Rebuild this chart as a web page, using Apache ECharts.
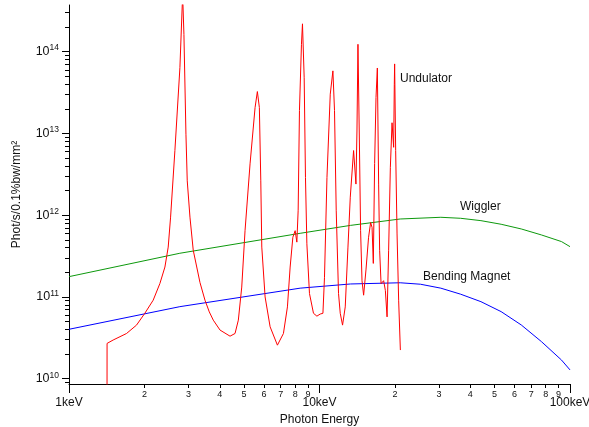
<!DOCTYPE html>
<html>
<head>
<meta charset="utf-8">
<script src="https://cdn.jsdelivr.net/npm/echarts@6/dist/echarts.min.js"></script>
<style>
  html, body { margin: 0; padding: 0; background: #fff; }
  #chart { width: 589px; height: 427px; }
</style>
</head>
<body>
<div id="chart"></div>
<script>
// photon energy in keV, flux in Phot/s/0.1%bw/mm^2
const undulatorEnergy = [1.418, 1.419, 1.500, 1.697, 1.860, 2.008, 2.168, 2.306, 2.415, 2.489, 2.544, 2.647, 2.772, 2.842, 2.876, 2.930, 2.965, 3.040, 3.133, 3.333, 3.490, 3.631, 3.767, 4.008, 4.394, 4.601, 4.742, 4.893, 5.044, 5.282, 5.531, 5.649, 5.754, 5.829, 5.883, 6.065, 6.351, 6.792, 7.178, 7.447, 7.635, 7.827, 7.995, 8.121, 8.219, 8.318, 8.472, 8.551, 8.686, 8.790, 8.904, 9.120, 9.462, 9.763, 10.06, 10.32, 10.47, 10.71, 11.04, 11.31, 11.48, 11.66, 11.91, 12.10, 12.36, 12.67, 12.99, 13.27, 13.68, 13.80, 13.98, 14.11, 14.24, 14.41, 14.59, 14.78, 15.00, 15.33, 15.70, 16.00, 16.21, 16.40, 16.60, 16.81, 17.02, 17.22, 17.38, 17.61, 17.82, 18.03, 18.32, 18.61, 18.88, 19.18, 19.48, 19.66, 19.77, 19.89, 19.95, 20.14, 20.40, 20.70, 21.03];
const undulatorFlux = [1e9, 2.70e10, 2.97e10, 3.57e10, 4.52e10, 6.31e10, 9.12e10, 1.46e11, 2.32e11, 4.07e11, 9.46e11, 6.17e12, 6.38e13, 5e14, 1.62e14, 9.77e12, 2.63e12, 9.46e11, 3.72e11, 1.50e11, 9.12e10, 6.56e10, 5.20e10, 3.93e10, 3.31e10, 3.57e10, 5.20e10, 1.32e11, 6.46e11, 4.24e12, 2.07e13, 3.25e13, 2.07e13, 2.63e12, 4.07e11, 1.00e11, 4.31e10, 2.57e10, 3.57e10, 7.55e10, 2.32e11, 5.37e11, 6.46e11, 4.68e11, 1.15e12, 1.91e13, 1.23e14, 2.19e14, 4.79e13, 2.88e12, 4.47e11, 1.10e11, 6.31e10, 5.82e10, 6.17e10, 6.31e10, 1.74e11, 2.88e12, 3.02e13, 5.82e13, 1.91e13, 1.15e12, 1.10e11, 6.31e10, 4.52e10, 7.55e10, 4.07e11, 1.66e12, 6.17e12, 6.46e12, 2.40e12, 1.07e13, 1.23e14, 1.07e13, 6.46e11, 1.58e11, 1.05e11, 2.14e11, 5.37e11, 8.13e11, 7.08e11, 2.57e11, 4.27e12, 2.75e13, 6.31e13, 2.40e12, 3.72e11, 1.45e11, 1.50e11, 1.58e11, 1.20e11, 5.70e10, 3.72e11, 3.85e12, 1.35e13, 1.29e13, 6.76e12, 3.98e13, 7.08e13, 6.17e12, 5.89e11, 9.12e10, 2.24e10];

const wigglerEnergy = [1, 2.77, 8.37, 13.3, 21.0, 30.5, 36.6, 44.1, 53.1, 63.9, 76.9, 92.5, 100];
const wigglerFlux = [1.77e11, 3.42e11, 6.0e11, 7.5e11, 8.98e11, 9.42e11, 9.16e11, 8.57e11, 7.74e11, 6.78e11, 5.73e11, 4.75e11, 4.12e11];

const magnetEnergy = [1, 2.77, 8.37, 13.3, 21.0, 25.3, 30.5, 36.6, 44.1, 53.1, 63.9, 76.9, 92.5, 100];
const magnetFlux = [4.02e10, 7.6e10, 1.28e11, 1.44e11, 1.49e11, 1.43e11, 1.28e11, 1.08e11, 8.75e10, 6.61e10, 4.54e10, 2.84e10, 1.69e10, 1.28e10];

const xMajorTicks = [1, 10, 100];
const xMinorTicks = [2, 3, 4, 5, 6, 7, 8, 9, 20, 30, 40, 50, 60, 70, 80, 90];
const yMajorTicks = [1e10, 1e11, 1e12, 1e13, 1e14];
const yMinorTicks = [9e9, 2e10, 3e10, 4e10, 5e10, 6e10, 7e10, 8e10, 9e10, 2e11, 3e11, 4e11, 5e11, 6e11, 7e11, 8e11, 9e11, 2e12, 3e12, 4e12, 5e12, 6e12, 7e12, 8e12, 9e12, 2e13, 3e13, 4e13, 5e13, 6e13, 7e13, 8e13, 9e13, 2e14, 3e14];

const yMin = 8.61e9;
const yMax = 3.72e14;
const font = 'Liberation Sans, Arial, Helvetica, sans-serif';

function zip(xs, ys) {
    return xs.map((x, i) => [x, ys[i]]);
}

const chart = echarts.init(document.getElementById('chart'));

chart.setOption({
    animation: false,
    backgroundColor: '#fff',
    grid: { left: 69, right: 19, top: 5, bottom: 43, outerBoundsMode: 'none', containLabel: false },
    xAxis: [{
        type: 'log',
        logBase: 10,
        min: 1,
        max: 100,
        position: 'bottom',
        axisLine: { onZero: false, lineStyle: { color: '#000', width: 1 } },
        axisTick: { customValues: xMajorTicks, length: 9, lineStyle: { color: '#000' } },
        axisLabel: {
            customValues: xMajorTicks,
            formatter: v => v + 'keV',
            fontSize: 12, margin: 13, color: '#111', fontFamily: font
        },
        splitLine: { show: false },
        name: 'Photon Energy',
        nameLocation: 'middle',
        nameGap: 29,
        nameTextStyle: { fontSize: 12, color: '#111', fontFamily: font }
    }, {
        type: 'log',
        logBase: 10,
        min: 1,
        max: 100,
        position: 'bottom',
        axisLine: { show: false, onZero: false },
        axisTick: { customValues: xMinorTicks, length: 4, lineStyle: { color: '#000' } },
        axisLabel: {
            customValues: xMinorTicks,
            formatter: v => String(v < 10 ? v : v / 10),
            fontSize: 9, margin: 6, color: '#111', fontFamily: font
        },
        splitLine: { show: false }
    }],
    yAxis: [{
        type: 'log',
        logBase: 10,
        min: yMin,
        max: yMax,
        position: 'left',
        axisLine: { show: true, onZero: false, lineStyle: { color: '#000', width: 1 } },
        axisTick: { show: true, customValues: yMajorTicks, length: 7, lineStyle: { color: '#000' } },
        axisLabel: {
            customValues: yMajorTicks,
            formatter: v => '{b|10}{s|' + Math.round(Math.log10(v)) + '}',
            margin: 10,
            rich: {
                b: { fontSize: 12.5, color: '#111', fontFamily: font },
                s: { fontSize: 8.5, color: '#111', fontFamily: font, padding: [0, 0, 7, 0] }
            }
        },
        splitLine: { show: false },
        name: 'Phot/s/0.1%bw/mm²',
        nameLocation: 'middle',
        nameGap: 46,
        nameTextStyle: { fontSize: 12, color: '#111', fontFamily: font }
    }, {
        type: 'log',
        logBase: 10,
        min: yMin,
        max: yMax,
        position: 'left',
        axisLine: { show: false, onZero: false },
        axisTick: { show: true, customValues: yMinorTicks, length: 4, lineStyle: { color: '#000' } },
        axisLabel: { show: false },
        splitLine: { show: false }
    }],
    series: [{
        name: 'Wiggler',
        type: 'line',
        data: zip(wigglerEnergy, wigglerFlux),
        showSymbol: false,
        clip: true,
        lineStyle: { color: '#0d990d', width: 1 }
    }, {
        name: 'Bending Magnet',
        type: 'line',
        data: zip(magnetEnergy, magnetFlux),
        showSymbol: false,
        clip: true,
        lineStyle: { color: '#0000ff', width: 1 }
    }, {
        name: 'Undulator',
        type: 'line',
        data: zip(undulatorEnergy, undulatorFlux),
        showSymbol: false,
        clip: true,
        lineStyle: { color: '#ff0000', width: 1 }
    }],
    graphic: [
        { type: 'text', left: 400, top: 73, style: { text: 'Undulator', fontSize: 12, fill: '#111', fontFamily: font } },
        { type: 'text', left: 460, top: 201, style: { text: 'Wiggler', fontSize: 12, fill: '#111', fontFamily: font } },
        { type: 'text', left: 423, top: 271, style: { text: 'Bending Magnet', fontSize: 12, fill: '#111', fontFamily: font } }
    ]
});
</script>
</body>
</html>
